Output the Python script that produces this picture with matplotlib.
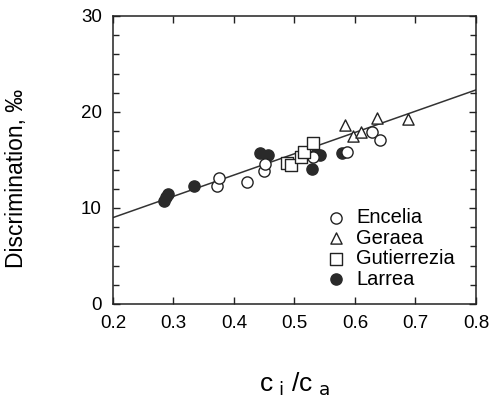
import matplotlib
matplotlib.use('Agg')
import matplotlib.pyplot as plt
from matplotlib.ticker import MultipleLocator

plt.rcParams['font.family'] = ['Liberation Sans', 'DejaVu Sans']

# data
encelia_x = [0.372, 0.375, 0.421, 0.450, 0.451, 0.531, 0.587, 0.628, 0.641]
encelia_y = [12.3, 13.1, 12.7, 13.9, 14.6, 15.3, 15.8, 17.9, 17.1]

geraea_x = [0.583, 0.597, 0.610, 0.636, 0.688]
geraea_y = [18.6, 17.5, 17.9, 19.4, 19.3]

gutierrezia_x = [0.488, 0.495, 0.511, 0.515, 0.531]
gutierrezia_y = [14.7, 14.5, 15.3, 15.8, 16.8]

larrea_x = [0.284, 0.288, 0.291, 0.334, 0.443, 0.456, 0.529, 0.536, 0.542, 0.578]
larrea_y = [10.7, 11.1, 11.5, 12.3, 15.7, 15.5, 14.1, 15.6, 15.5, 15.7]

fit_x = [0.2, 0.8]
fit_y = [9.0, 22.3]

xticks = [0.2, 0.3, 0.4, 0.5, 0.6, 0.7, 0.8]
xticklabels = ['0.2', '0.3', '0.4', '0.5', '0.6', '0.7', '0.8']

fig = plt.figure(figsize=(4.90, 4.03), dpi=100)
ax = fig.add_axes([0.2306, 0.2457, 0.7408, 0.7146])

ax.plot(fit_x, fit_y, color='#333333', lw=1.1, zorder=1)

ms = 65
ax.scatter(encelia_x, encelia_y, s=ms, marker='o', facecolors='white',
           edgecolors='#222222', linewidths=1.0, zorder=3, label='Encelia')
ax.scatter(geraea_x, geraea_y, s=ms, marker='^', facecolors='white',
           edgecolors='#222222', linewidths=1.0, zorder=3, label='Geraea')
ax.scatter(gutierrezia_x, gutierrezia_y, s=ms, marker='s', facecolors='white',
           edgecolors='#222222', linewidths=1.0, zorder=3, label='Gutierrezia')
ax.scatter(larrea_x, larrea_y, s=ms, marker='o', facecolors='#2a2a2a',
           edgecolors='#2a2a2a', linewidths=1.0, zorder=2, label='Larrea')

ax.set_xlim(0.2, 0.8)
ax.set_ylim(0, 30)
ax.set_xticks(xticks)
ax.set_xticklabels(xticklabels)
ax.yaxis.set_major_locator(MultipleLocator(10))
ax.yaxis.set_minor_locator(MultipleLocator(2))
ax.tick_params(which='both', direction='in', top=True, right=True,
               labelsize=13.5, color='#222222')
ax.tick_params(which='major', length=5, width=1.0, pad=8)
ax.tick_params(which='minor', length=4, width=1.0)
for s in ax.spines.values():
    s.set_linewidth(1.1)
    s.set_color('#222222')

ax.set_ylabel('Discrimination, ‰', fontsize=16.5)
ax.yaxis.set_label_coords(-0.234, 0.4375)
ax.set_xlabel(r'c$_{\rm\ i}$ /c$_{\rm\ a}$', fontsize=19, labelpad=28)

ax.legend(loc='upper left', bbox_to_anchor=(0.565, 0.36), frameon=False,
          fontsize=14.5, handletextpad=0.5, labelspacing=0.07,
          borderaxespad=0, handlelength=1.0, scatterpoints=1)

fig.savefig('out.png', dpi=100)
